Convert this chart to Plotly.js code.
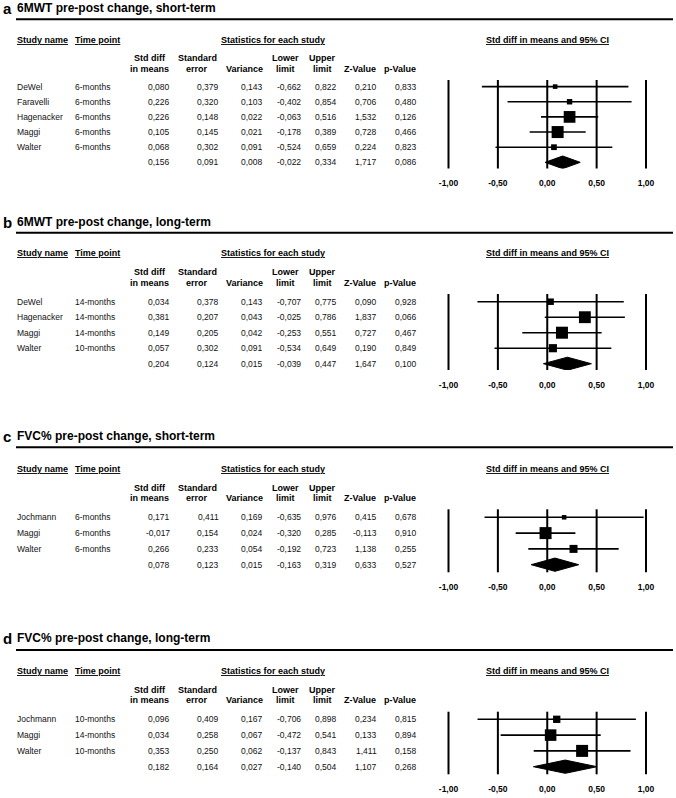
<!DOCTYPE html>
<html><head><meta charset="utf-8">
<script src="https://cdn.plot.ly/plotly-3.0.1.min.js"></script>
<style>html,body{margin:0;padding:0;background:#fff}#chart{width:676px;height:798px}</style>
</head><body><div id="chart"></div>
<script>
// ---------- Data ----------
const tickVals = [-1, -0.5, 0, 0.5, 1];
const tickText = ['-1,00', '-0,50', '0,00', '0,50', '1,00'];
// pooled arrays order: [std diff, standard error, variance, lower, upper, Z, p]

// Panel a
const aTitle = '6MWT pre-post change, short-term';
const aStudy = ['DeWel', 'Faravelli', 'Hagenacker', 'Maggi', 'Walter'];
const aTime = ['6-months', '6-months', '6-months', '6-months', '6-months'];
const aStdDiff = [0.080, 0.226, 0.226, 0.105, 0.068];
const aStdErr = [0.379, 0.320, 0.148, 0.145, 0.302];
const aVariance = [0.143, 0.103, 0.022, 0.021, 0.091];
const aLower = [-0.662, -0.402, -0.063, -0.178, -0.524];
const aUpper = [0.822, 0.854, 0.516, 0.389, 0.659];
const aZ = [0.210, 0.706, 1.532, 0.728, 0.224];
const aP = [0.833, 0.480, 0.126, 0.466, 0.823];
const aPooled = [0.156, 0.091, 0.008, -0.022, 0.334, 1.717, 0.086];

// Panel b
const bTitle = '6MWT pre-post change, long-term';
const bStudy = ['DeWel', 'Hagenacker', 'Maggi', 'Walter'];
const bTime = ['14-months', '14-months', '14-months', '10-months'];
const bStdDiff = [0.034, 0.381, 0.149, 0.057];
const bStdErr = [0.378, 0.207, 0.205, 0.302];
const bVariance = [0.143, 0.043, 0.042, 0.091];
const bLower = [-0.707, -0.025, -0.253, -0.534];
const bUpper = [0.775, 0.786, 0.551, 0.649];
const bZ = [0.090, 1.837, 0.727, 0.190];
const bP = [0.928, 0.066, 0.467, 0.849];
const bPooled = [0.204, 0.124, 0.015, -0.039, 0.447, 1.647, 0.100];

// Panel c
const cTitle = 'FVC% pre-post change, short-term';
const cStudy = ['Jochmann', 'Maggi', 'Walter'];
const cTime = ['6-months', '6-months', '6-months'];
const cStdDiff = [0.171, -0.017, 0.266];
const cStdErr = [0.411, 0.154, 0.233];
const cVariance = [0.169, 0.024, 0.054];
const cLower = [-0.635, -0.320, -0.192];
const cUpper = [0.976, 0.285, 0.723];
const cZ = [0.415, -0.113, 1.138];
const cP = [0.678, 0.910, 0.255];
const cPooled = [0.078, 0.123, 0.015, -0.163, 0.319, 0.633, 0.527];

// Panel d
const dTitle = 'FVC% pre-post change, long-term';
const dStudy = ['Jochmann', 'Maggi', 'Walter'];
const dTime = ['10-months', '14-months', '10-months'];
const dStdDiff = [0.096, 0.034, 0.353];
const dStdErr = [0.409, 0.258, 0.250];
const dVariance = [0.167, 0.067, 0.062];
const dLower = [-0.706, -0.472, -0.137];
const dUpper = [0.898, 0.541, 0.843];
const dZ = [0.234, 0.133, 1.411];
const dP = [0.815, 0.894, 0.158];
const dPooled = [0.182, 0.164, 0.027, -0.140, 0.504, 1.107, 0.268];

// ---------- Layout helpers ----------
const W = 676, H = 798;
const FONT = 'Arial, "Liberation Sans", Helvetica, sans-serif';
const fmt = v => v.toFixed(3).replace('.', ',');

const panels = [
  {label: 'a', title: aTitle, study: aStudy, time: aTime, cols: [aStdDiff, aStdErr, aVariance, aLower, aUpper, aZ, aP], pooled: aPooled,
   titleY: 8.5, ruleY: 19.3, headY: 40, col1Y: 58, col2Y: 69, r0: 86.6, step: 15.15, vTop: 80, vBot: 168.5},
  {label: 'b', title: bTitle, study: bStudy, time: bTime, cols: [bStdDiff, bStdErr, bVariance, bLower, bUpper, bZ, bP], pooled: bPooled,
   titleY: 221.7, ruleY: 232.7, headY: 253, col1Y: 271.7, col2Y: 282.7, r0: 301.7, step: 15.5, vTop: 294, vBot: 370},
  {label: 'c', title: cTitle, study: cStudy, time: cTime, cols: [cStdDiff, cStdErr, cVariance, cLower, cUpper, cZ, cP], pooled: cPooled,
   titleY: 436, ruleY: 447.3, headY: 468.7, col1Y: 487.7, col2Y: 498, r0: 517.3, step: 15.8, vTop: 509.3, vBot: 572.3},
  {label: 'd', title: dTitle, study: dStudy, time: dTime, cols: [dStdDiff, dStdErr, dVariance, dLower, dUpper, dZ, dP], pooled: dPooled,
   titleY: 638.3, ruleY: 650, headY: 671, col1Y: 690, col2Y: 700, r0: 719.3, step: 15.8, vTop: 711.7, vBot: 774.3}
];

// column geometry (px)
const studyX = 17, timeX = 75;
const colRight = [170, 218.5, 263, 301, 337, 376.7, 416.7];
const colCenter = [149.5, 197, 244.5, 285, 322, 360, 400];
const colHead1 = ['Std diff', 'Standard', '', 'Lower', 'Upper', '', ''];
const colHead2 = ['in means', 'error', 'Variance', 'limit', 'limit', 'Z-Value', 'p-Value'];

// forest x mapping: -1 at 448.5px, +1 at 646px
const zeroPx = 547.25, unitPx = 98.75;
const domL = 436, domR = 658;

const traces = [], shapes = [], annotations = [];
const layout = {
  width: W, height: H, margin: {l: 0, r: 0, t: 0, b: 0},
  paper_bgcolor: '#fff', plot_bgcolor: 'rgba(0,0,0,0)', showlegend: false,
  font: {family: FONT, color: '#000'}
};

function ann(x, y, text, o) {
  annotations.push(Object.assign({
    xref: 'paper', yref: 'paper', x: x / W, y: 1 - y / H, text: text, showarrow: false,
    xanchor: 'left', yanchor: 'middle', borderpad: 0, borderwidth: 0,
    font: {family: FONT, size: 8.5, color: '#000'}
  }, o || {}));
}

panels.forEach((P, i) => {
  const k = i === 0 ? '' : String(i + 1);
  const xa = 'x' + k, ya = 'y' + k;
  const n = P.study.length;
  const rows = P.study.map((_, j) => j);
  const sd = P.cols[0], vr = P.cols[2], lo = P.cols[3], up = P.cols[4];

  // CI whiskers
  const cx = [], cy = [];
  rows.forEach(j => { cx.push(lo[j], up[j], null); cy.push(j, j, null); });
  traces.push({type: 'scatter', mode: 'lines', x: cx, y: cy, xaxis: xa, yaxis: ya,
    line: {color: '#000', width: 1.6}, hoverinfo: 'skip', showlegend: false});
  // weighted squares
  const minVar = Math.min.apply(null, vr);
  traces.push({type: 'scatter', mode: 'markers', x: sd, y: rows, xaxis: xa, yaxis: ya,
    marker: {symbol: 'square', color: '#000', opacity: 1,
             size: vr.map(v => 12 * Math.sqrt(minVar / v)), line: {width: 0}},
    hoverinfo: 'skip', showlegend: false, cliponaxis: false});
  // pooled diamond
  const pe = P.pooled[0], pl = P.pooled[3], pu = P.pooled[4];
  const h = 0.42;
  traces.push({type: 'scatter', mode: 'lines', fill: 'toself', fillcolor: '#000',
    x: [pl, pe, pu, pe, pl], y: [n, n - h, n, n + h, n], xaxis: xa, yaxis: ya,
    line: {color: '#000', width: 1}, hoverinfo: 'skip', showlegend: false});

  layout['xaxis' + k] = {
    domain: [domL / W, domR / W], range: [(domL - zeroPx) / unitPx, (domR - zeroPx) / unitPx],
    anchor: ya, tickvals: tickVals, ticktext: tickText, ticks: '', showgrid: false, zeroline: false,
    showline: false, fixedrange: true, ticklabelstandoff: 8,
    tickfont: {family: FONT, size: 8.5, weight: 700, color: '#000'}
  };
  layout['yaxis' + k] = {
    domain: [1 - P.vBot / H, 1 - P.vTop / H],
    range: [(P.vBot - P.r0) / P.step, (P.vTop - P.r0) / P.step],
    anchor: xa, visible: false, fixedrange: true
  };
  tickVals.forEach(t => shapes.push({type: 'line', xref: xa, yref: ya + ' domain',
    x0: t, x1: t, y0: 0, y1: 1, line: {color: '#000', width: 2}}));

  // title, label, rule
  ann(3, P.titleY + 0.5, P.label, {font: {family: FONT, size: 15, weight: 700, color: '#000'}});
  ann(17, P.titleY, P.title, {font: {family: FONT, size: 12, weight: 700, color: '#000'}});
  shapes.push({type: 'line', xref: 'paper', yref: 'paper', x0: 16 / W, x1: 673 / W,
    y0: 1 - P.ruleY / H, y1: 1 - P.ruleY / H, line: {color: '#000', width: 2}});

  // header row
  const bold9 = {family: FONT, size: 9, weight: 700, color: '#000'};
  ann(studyX, P.headY, '<u>Study name</u>', {font: bold9});
  ann(timeX, P.headY, '<u>Time point</u>', {font: bold9});
  ann(273, P.headY, '<u>Statistics for each study</u>', {font: bold9, xanchor: 'center'});
  ann(zeroPx, P.headY, '<u>Std diff in means and 95% CI</u>', {font: bold9, xanchor: 'center'});
  colCenter.forEach((cxp, c) => {
    if (colHead1[c]) ann(cxp, P.col1Y, colHead1[c], {font: bold9, xanchor: 'center'});
    ann(cxp, P.col2Y, colHead2[c], {font: bold9, xanchor: 'center'});
  });

  // table rows (aligned to forest rows through the subplot y axis)
  const rowAnn = (x, j, text, anchor) => annotations.push({
    xref: 'paper', yref: ya, x: x / W, y: j, text: text, showarrow: false,
    xanchor: anchor, yanchor: 'middle', borderpad: 0, borderwidth: 0,
    font: {family: FONT, size: 8.5, color: '#111'}
  });
  rows.forEach(j => {
    rowAnn(studyX, j, P.study[j], 'left');
    rowAnn(timeX, j, P.time[j], 'left');
    P.cols.forEach((col, c) => rowAnn(colRight[c], j, fmt(col[j]), 'right'));
  });
  P.pooled.forEach((v, c) => rowAnn(colRight[c], n, fmt(v), 'right'));
});

layout.shapes = shapes;
layout.annotations = annotations;
Plotly.newPlot('chart', traces, layout, {staticPlot: true, displayModeBar: false});
</script>
</body></html>
